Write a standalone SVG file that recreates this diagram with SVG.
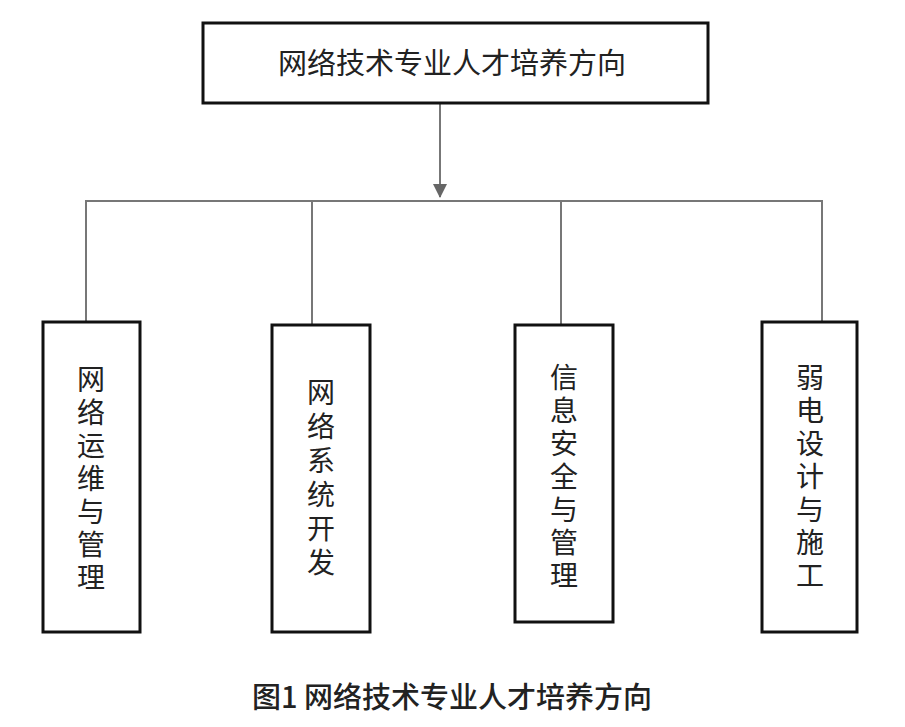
<svg xmlns="http://www.w3.org/2000/svg" width="905" height="727" viewBox="0 0 905 727">
<style>
.box{fill:#fff;stroke:#111;stroke-width:3}
.ln{stroke:#777;stroke-width:2;fill:none}
.t{font-family:"Noto Sans CJK SC",sans-serif;font-size:29px;fill:#222;text-anchor:middle}
.v{font-family:"Noto Sans CJK SC",sans-serif;font-size:28px;fill:#222;text-anchor:middle}
</style>
<defs><marker id="ar" markerWidth="14" markerHeight="14" refX="13" refY="7" orient="auto" markerUnits="userSpaceOnUse"><path d="M0,0 L14,7 L0,14 z" fill="#666"/></marker></defs>
<rect width="905" height="727" fill="#fff"/>
<g id="connectors">
<line class="ln" x1="440" y1="103" x2="440" y2="197" marker-end="url(#ar)"/>
<polyline class="ln" points="86,322 86,201 822,201 822,322"/>
<line class="ln" x1="312" y1="201" x2="312" y2="325"/>
<line class="ln" x1="561" y1="201" x2="561" y2="325"/>
</g>
<g id="top"><rect class="box" x="203" y="23" width="505" height="80"/><text class="t" x="452" y="74">网络技术专业人才培养方向</text></g>
<g id="n1"><rect class="box" x="43" y="322" width="97" height="310"/><text class="v" y="390"><tspan x="91">网</tspan><tspan x="91" dy="33">络</tspan><tspan x="91" dy="33">运</tspan><tspan x="91" dy="33">维</tspan><tspan x="91" dy="33">与</tspan><tspan x="91" dy="33">管</tspan><tspan x="91" dy="33">理</tspan></text></g>
<g id="n2"><rect class="box" x="272" y="325" width="98" height="307"/><text class="v" y="403"><tspan x="321">网</tspan><tspan x="321" dy="34">络</tspan><tspan x="321" dy="34">系</tspan><tspan x="321" dy="34">统</tspan><tspan x="321" dy="34">开</tspan><tspan x="321" dy="34">发</tspan></text></g>
<g id="n3"><rect class="box" x="515" y="325" width="98" height="297"/><text class="v" y="388"><tspan x="564">信</tspan><tspan x="564" dy="33">息</tspan><tspan x="564" dy="33">安</tspan><tspan x="564" dy="33">全</tspan><tspan x="564" dy="33">与</tspan><tspan x="564" dy="33">管</tspan><tspan x="564" dy="33">理</tspan></text></g>
<g id="n4"><rect class="box" x="762" y="322" width="95" height="310"/><text class="v" y="388"><tspan x="810">弱</tspan><tspan x="810" dy="33">电</tspan><tspan x="810" dy="33">设</tspan><tspan x="810" dy="33">计</tspan><tspan x="810" dy="33">与</tspan><tspan x="810" dy="33">施</tspan><tspan x="810" dy="33">工</tspan></text></g>
<text x="452" y="708" style="font-family:'Noto Sans CJK SC',sans-serif;font-size:29px;font-weight:500;fill:#222;text-anchor:middle">图1  网络技术专业人才培养方向</text>
</svg>
